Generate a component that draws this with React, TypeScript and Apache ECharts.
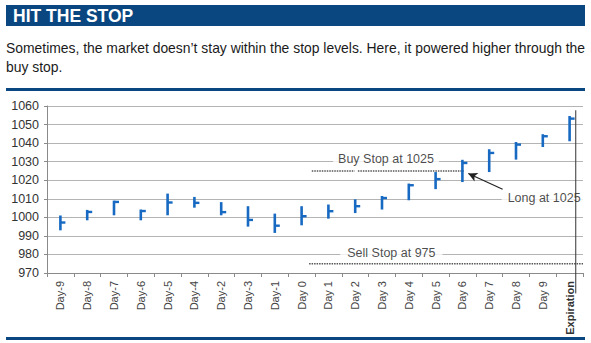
import React, { useEffect, useRef } from "react";
import * as echarts from "echarts";

const categories = [
  "Day-9", "Day-8", "Day-7", "Day-6", "Day-5", "Day-4", "Day-2", "Day-3", "Day-1", "Day 0",
  "Day 1", "Day 2", "Day 3", "Day 4", "Day 5", "Day 6", "Day 7", "Day 8", "Day 9", "Expiration",
];
const highs = [1001, 1004, 1009, 1004.2, 1012.8, 1011, 1008.2, 1006, 1002, 1006, 1006.9, 1009.7, 1011.5, 1018.2, 1024.4, 1031, 1036.7, 1040.6, 1044.8, 1054.6];
const lows = [993, 998.4, 1001.1, 998.4, 1001.1, 1005.2, 1001.1, 995, 991.6, 995.7, 999.3, 1002.3, 1004.2, 1009.2, 1015.2, 1019, 1024.4, 1031.1, 1037.9, 1041];
const closes = [997.2, 1002.9, 1008.3, 1003.4, 1008, 1007.8, 1002.8, 998.6, 995.5, 1000.6, 1003.3, 1006, 1010.4, 1017.3, 1020.6, 1029.3, 1034.7, 1039.2, 1043.7, 1053.2];

const yMin = 970;
const yMax = 1060;
const yStep = 10;

const buyStop = 1025;
const sellStop = 975;
// annotation positions on a 0..20 value scale across the categories
const buyStopSegments = [[9.88, 11.48], [11.6, 15.55]];
const sellStopSpan = [9.78, 20];
const expirationLine = { x: 19.73, top: 1057.7, bottom: 959 };
const arrowFrom = [17.0, 1015.1];
const arrowTo = [15.72, 1023.6];
const labels = [
  { text: "Buy Stop at 1025", x: 12.65, y: 1031.2, pad: [1, 5, 1, 5] },
  { text: "Long at 1025", x: 18.55, y: 1010.6, pad: [1, 6, 1, 6] },
  { text: "Sell Stop at 975", x: 12.85, y: 981, pad: [1, 7, 1, 7] },
];

const title = "HIT THE STOP";
const subtitle1 = "Sometimes, the market doesn\u2019t stay within the stop levels. Here, it powered higher through the";
const subtitle2 = "buy stop.";

const BLUE = "#0a4780";
const BAR = "#1769c2";
const FONT = "'Liberation Sans', Arial, sans-serif";

export default function App() {
  const ref = useRef<HTMLDivElement>(null);
  useEffect(() => {
    if (!ref.current) return;
    const chart = echarts.init(ref.current, undefined, { renderer: "svg" });
    const barData = categories.map((_, i) => [i, highs[i], lows[i], closes[i]]);
    const series: any[] = [
      {
        type: "custom",
        xAxisIndex: 0,
        yAxisIndex: 0,
        data: barData,
        renderItem: (_p: any, api: any) => {
          const i = api.value(0);
          const hi = api.coord([i, api.value(1)]);
          const lo = api.coord([i, api.value(2)]);
          const cl = api.coord([i, api.value(3)]);
          return {
            type: "group",
            children: [
              { type: "line", shape: { x1: hi[0], y1: hi[1], x2: lo[0], y2: lo[1] }, style: { stroke: BAR, lineWidth: 2.6 } },
              { type: "line", shape: { x1: cl[0], y1: cl[1], x2: cl[0] + 5, y2: cl[1] }, style: { stroke: BAR, lineWidth: 2.4 } },
            ],
          };
        },
        z: 5,
      },
    ];
    buyStopSegments.forEach((seg) => {
      series.push({
        type: "line",
        xAxisIndex: 1,
        yAxisIndex: 0,
        data: [[seg[0], buyStop], [seg[1], buyStop]],
        symbol: "none",
        lineStyle: { color: "#555", width: 1.6, type: [1.5, 1] },
        z: 3,
      });
    });
    series.push({
      type: "line",
      xAxisIndex: 1,
      yAxisIndex: 0,
      data: [[sellStopSpan[0], sellStop], [sellStopSpan[1], sellStop]],
      symbol: "none",
      lineStyle: { color: "#555", width: 1.6, type: [1.5, 1] },
      z: 3,
    });
    series.push({
      type: "line",
      xAxisIndex: 1,
      yAxisIndex: 0,
      clip: false,
      data: [[expirationLine.x, expirationLine.top], [expirationLine.x, expirationLine.bottom]],
      symbol: "none",
      lineStyle: { color: "#333", width: 1 },
      z: 6,
    });
    series.push({
      type: "scatter",
      xAxisIndex: 1,
      yAxisIndex: 0,
      symbolSize: 0,
      data: labels.map((l) => ({
        value: [l.x, l.y],
        label: {
          show: true,
          position: "inside",
          formatter: l.text,
          color: "#1a1a1a",
          fontSize: 12.5,
          fontFamily: FONT,
          backgroundColor: "#fff",
          padding: l.pad,
        },
      })),
      z: 4,
      markLine: {
        silent: true,
        symbol: ["none", "arrow"],
        symbolSize: [7, 9],
        label: { show: false },
        lineStyle: { color: "#222", width: 1.2, type: "solid" },
        data: [[{ coord: arrowFrom }, { coord: arrowTo }]],
      },
    });

    chart.setOption({
      animation: false,
      backgroundColor: "#fff",
      textStyle: { fontFamily: FONT },
      grid: { left: 47, right: 8, top: 106, bottom: 70, containLabel: false },
      xAxis: [
        {
          type: "category",
          data: categories,
          boundaryGap: true,
          axisLine: { lineStyle: { color: "#8a8a8a", width: 1 } },
          axisTick: { show: true, length: 4, lineStyle: { color: "#8a8a8a" } },
          axisLabel: {
            rotate: 90,
            interval: 0,
            margin: 8,
            fontSize: 11,
            color: "#444",
            fontFamily: FONT,
            formatter: (v: string) => (v === "Expiration" ? "{b|" + v + "}" : v),
            rich: { b: { fontWeight: "bold", fontSize: 11, color: "#333", fontFamily: FONT } },
          },
          splitLine: { show: false },
        },
        { type: "value", min: 0, max: 20, show: false },
      ],
      yAxis: {
        type: "value",
        min: yMin,
        max: yMax,
        interval: yStep,
        axisLine: { show: true, lineStyle: { color: "#8a8a8a" } },
        axisTick: { show: true, length: 3, lineStyle: { color: "#8a8a8a" } },
        axisLabel: { fontSize: 12.5, color: "#333", margin: 8, fontFamily: FONT, formatter: (v: number) => String(v) },
        splitLine: { show: true, lineStyle: { color: "#b4b4b4", width: 1 } },
      },
      graphic: [
        { type: "rect", shape: { x: 6, y: 5, width: 579, height: 21 }, style: { fill: BLUE } },
        {
          type: "text",
          x: 13,
          y: 15.5,
          style: { text: title, fill: "#fff", fontSize: 17.5, fontWeight: "bold", fontFamily: FONT, verticalAlign: "middle" },
        },
        {
          type: "text",
          x: 6,
          y: 47.5,
          style: { text: subtitle1, fill: "#1a1a1a", fontSize: 13.9, fontFamily: FONT, verticalAlign: "middle" },
        },
        {
          type: "text",
          x: 6,
          y: 67,
          style: { text: subtitle2, fill: "#1a1a1a", fontSize: 13.9, fontFamily: FONT, verticalAlign: "middle" },
        },
        { type: "line", shape: { x1: 6, y1: 89.5, x2: 585, y2: 89.5 }, style: { stroke: BLUE, lineWidth: 3 } },
        { type: "line", shape: { x1: 6, y1: 338.5, x2: 585, y2: 338.5 }, style: { stroke: BLUE, lineWidth: 3 } },
      ],
      series,
    });
    return () => chart.dispose();
  }, []);
  return <div ref={ref} style={{ position: "fixed", left: 0, top: 0, width: 591, height: 343 }} />;
}
